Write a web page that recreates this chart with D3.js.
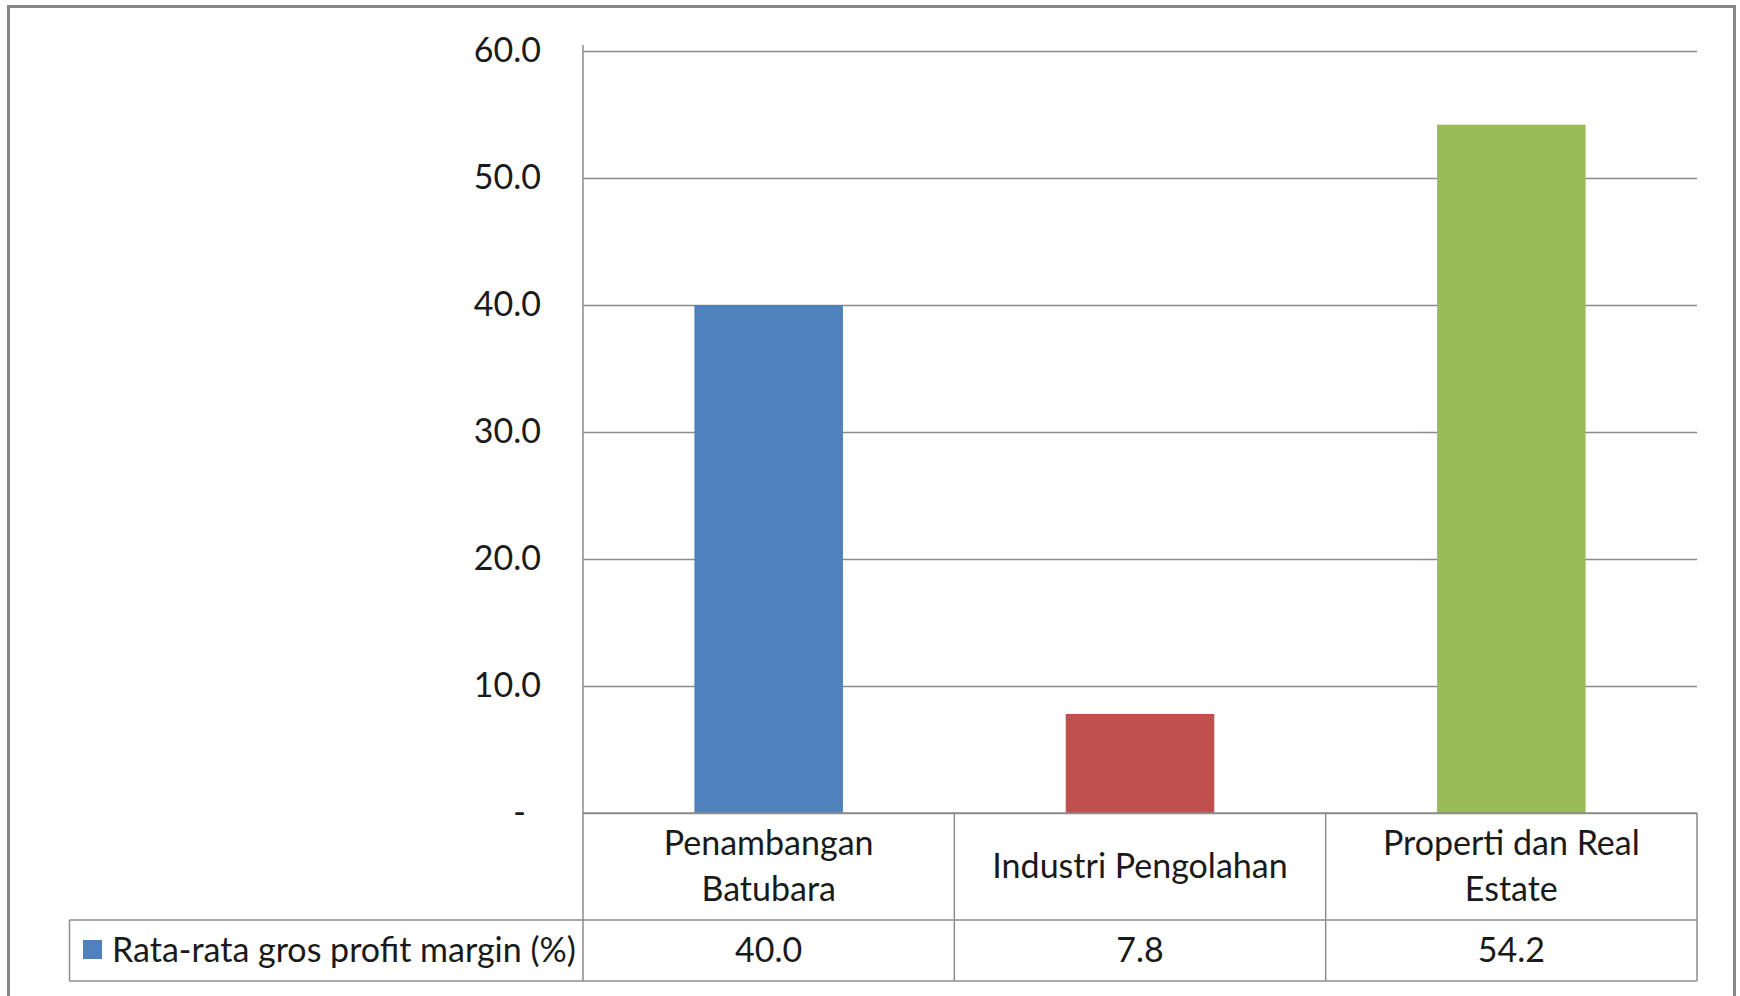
<!DOCTYPE html>
<html>
<head>
<meta charset="utf-8">
<script src="https://cdn.jsdelivr.net/npm/d3@7"></script>
<style>
  body { margin: 0; background: #fff; }
  text { font-family: Lato, "Open Sans", sans-serif; fill: #1a1a1a; }
</style>
</head>
<body>
<div id="chart"></div>
<script>
// data
const categories = ["Penambangan Batubara", "Industri Pengolahan", "Properti dan Real Estate"];
const categoryLines = [["Penambangan", "Batubara"], ["Industri Pengolahan"], ["Properti dan Real", "Estate"]];
const values = [40.0, 7.8, 54.2];
const seriesName = "Rata-rata gros profit margin (%)";
const yTicks = [0, 10, 20, 30, 40, 50, 60];
const barColors = ["#4F81BD", "#C0504D", "#9BBB59"];

const W = 1740, H = 996;
const fontSize = 34;
const gridColor = "#8c8c8c";

// plot box
const plotLeft = 583, plotRight = 1697, plotTop = 51, plotBase = 813;
const catRowBottom = 920, dataRowBottom = 981, tableLeft = 69.5;

const svg = d3.select("#chart")
    .append("svg")
    .attr("width", W)
    .attr("height", H);

// outer frame of the chart
svg.append("rect")
    .attr("x", 8.5).attr("y", 6.5)
    .attr("width", 1726).attr("height", 1010)
    .attr("fill", "none")
    .attr("stroke", "#888")
    .attr("stroke-width", 3);

const x = d3.scaleBand()
    .domain(categories)
    .range([plotLeft, plotRight])
    .paddingInner(0.6)
    .paddingOuter(0.3);

const y = d3.scaleLinear()
    .domain([0, 60])
    .range([plotBase, plotTop]);

// gridlines + y labels
const yAxis = svg.append("g")
    .attr("transform", `translate(${plotLeft},0)`)
    .call(d3.axisLeft(y)
        .tickValues(yTicks)
        .tickSize(-(plotRight - plotLeft))
        .tickPadding(42)
        .tickFormat(d => d === 0 ? "-" : d3.format(".1f")(d)));
yAxis.select(".domain").remove();
yAxis.selectAll(".tick line")
    .attr("stroke", gridColor)
    .attr("stroke-width", 1.5);
yAxis.selectAll(".tick text")
    .style("font-size", fontSize + "px")
    .attr("fill", "#1a1a1a")
    .attr("dx", d => d === 0 ? -15 : 0);

// bars
svg.selectAll(".bar")
    .data(categories)
    .join("rect")
    .attr("class", "bar")
    .attr("x", d => x(d))
    .attr("width", x.bandwidth())
    .attr("y", (d, i) => y(values[i]))
    .attr("height", (d, i) => plotBase - y(values[i]))
    .attr("fill", (d, i) => barColors[i]);

// data table under the axis
const step = x.step();

const lines = svg.append("g")
    .attr("stroke", gridColor)
    .attr("stroke-width", 1.5);

lines.append("line")
    .attr("x1", plotLeft).attr("x2", plotLeft)
    .attr("y1", plotTop - 6).attr("y2", dataRowBottom);
lines.append("line")
    .attr("x1", plotLeft).attr("x2", plotRight)
    .attr("y1", plotBase).attr("y2", plotBase);
lines.append("line")
    .attr("x1", tableLeft).attr("x2", plotRight)
    .attr("y1", catRowBottom).attr("y2", catRowBottom);
lines.append("line")
    .attr("x1", tableLeft).attr("x2", plotRight)
    .attr("y1", dataRowBottom).attr("y2", dataRowBottom);
lines.append("line")
    .attr("x1", tableLeft).attr("x2", tableLeft)
    .attr("y1", catRowBottom).attr("y2", dataRowBottom);
categories.forEach((c, i) => {
    const xe = plotLeft + step * (i + 1);
    lines.append("line")
        .attr("x1", xe).attr("x2", xe)
        .attr("y1", plotBase).attr("y2", dataRowBottom);
});

// category names and the values row
categories.forEach((c, i) => {
    const cx = x(c) + x.bandwidth() / 2;
    const ls = categoryLines[i];
    const midY = (plotBase + catRowBottom) / 2;
    ls.forEach((t, j) => {
        svg.append("text")
            .attr("x", cx)
            .attr("y", midY + (j - (ls.length - 1) / 2) * 46)
            .attr("dy", "0.35em")
            .attr("text-anchor", "middle")
            .style("font-size", fontSize + "px")
            .text(t);
    });
    svg.append("text")
        .attr("x", cx)
        .attr("y", (catRowBottom + dataRowBottom) / 2)
        .attr("dy", "0.35em")
        .attr("text-anchor", "middle")
        .style("font-size", fontSize + "px")
        .text(d3.format(".1f")(values[i]));
});

// legend key in the table
svg.append("rect")
    .attr("x", 83).attr("y", 940)
    .attr("width", 19).attr("height", 19)
    .attr("fill", barColors[0]);
svg.append("text")
    .attr("x", 112)
    .attr("y", (catRowBottom + dataRowBottom) / 2)
    .attr("dy", "0.35em")
    .style("font-size", fontSize + "px")
    .text(seriesName);
</script>
</body>
</html>
